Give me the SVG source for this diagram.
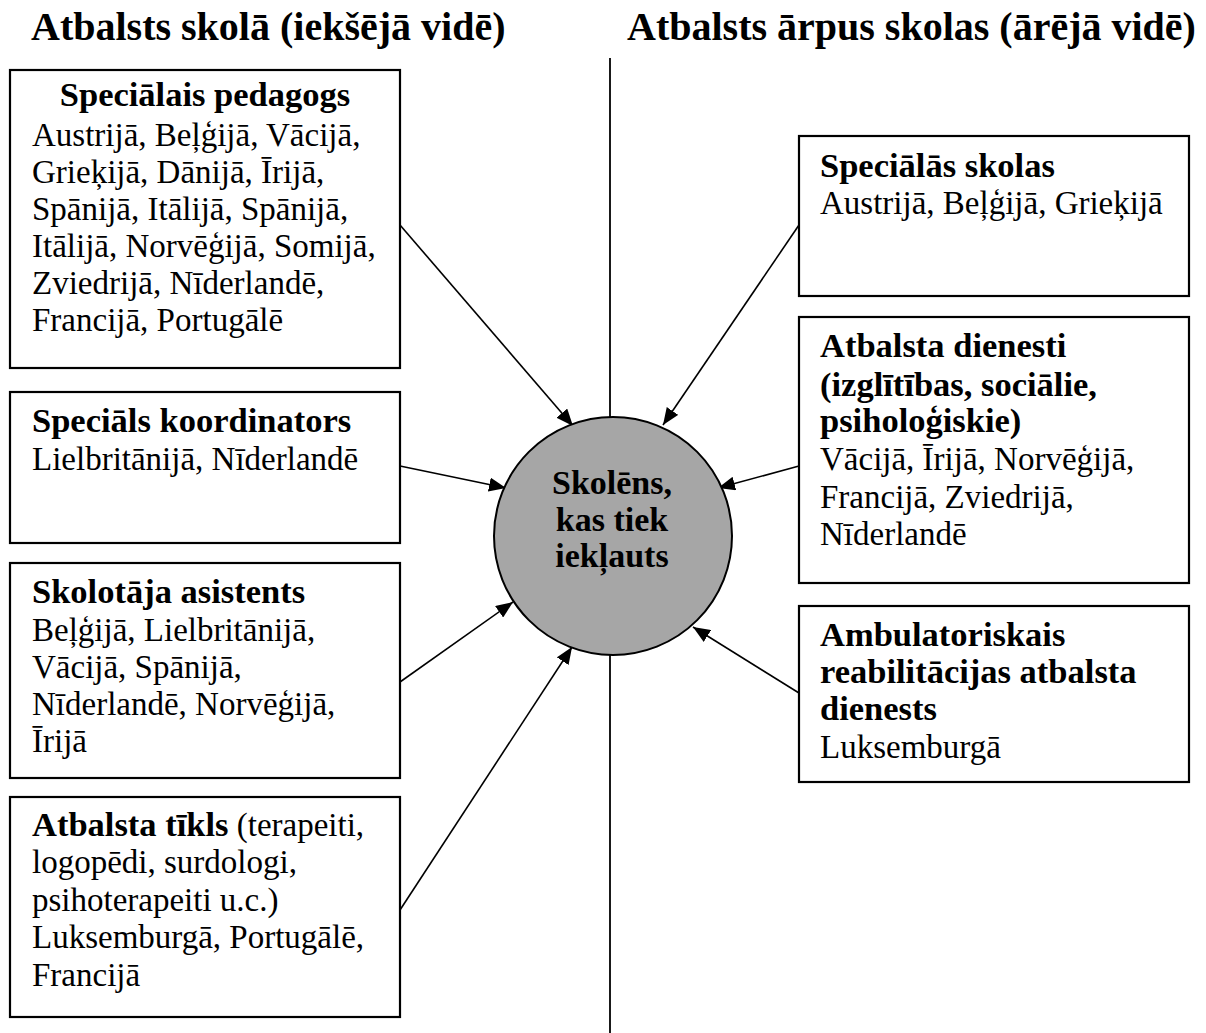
<svg xmlns="http://www.w3.org/2000/svg" width="1206" height="1033" viewBox="0 0 1206 1033">
  <style>
    text { font-family: "Liberation Serif", "Times New Roman", serif; fill: #000; }
    .title { font-size: 40px; font-weight: bold; }
    .head { font-size: 34.5px; font-weight: bold; }
    .body { font-size: 33px; }
    .hub { font-size: 34px; font-weight: bold; text-anchor: middle; }
    .box { fill: #fff; stroke: #000; stroke-width: 2.2; }
    .link { stroke: #000; stroke-width: 1.6; fill: none; marker-end: url(#arrow); }
  </style>
  <defs>
    <marker id="arrow" markerUnits="userSpaceOnUse" markerWidth="18" markerHeight="14" refX="17" refY="7" orient="auto">
      <path d="M0,0 L17,7 L0,14 z" fill="#000"/>
    </marker>
  </defs>
  <rect width="1206" height="1033" fill="#fff"/>

  <!-- column headings -->
  <text class="title" x="31" y="40">Atbalsts skolā (iekšējā vidē)</text>
  <text class="title" x="627" y="40">Atbalsts ārpus skolas (ārējā vidē)</text>

  <!-- divider between inside and outside support -->
  <line x1="610" y1="58" x2="610" y2="1033" stroke="#000" stroke-width="1.8"/>

  <!-- connectors -->
  <g id="connectors">
    <line class="link" x1="400" y1="225" x2="573" y2="426"/>
    <line class="link" x1="400" y1="466" x2="506" y2="488"/>
    <line class="link" x1="400" y1="682" x2="513" y2="602"/>
    <line class="link" x1="400" y1="910" x2="572" y2="647"/>
    <line class="link" x1="799" y1="225" x2="663" y2="425"/>
    <line class="link" x1="799" y1="466" x2="718" y2="488"/>
    <line class="link" x1="799" y1="693" x2="693" y2="627"/>
  </g>

  <!-- central node -->
  <g id="student">
    <circle cx="613" cy="536" r="119" fill="#a6a6a6" stroke="#000" stroke-width="2"/>
    <text class="hub" x="612" y="494">Skolēns,</text>
    <text class="hub" x="612" y="531">kas tiek</text>
    <text class="hub" x="612" y="567">iekļauts</text>
  </g>

  <g id="special-teacher">
    <rect class="box" x="10" y="70" width="390" height="298"/>
    <text class="head" x="205" y="106" text-anchor="middle">Speciālais pedagogs</text>
    <text class="body" x="32" y="146">Austrijā, Beļģijā, Vācijā,</text>
    <text class="body" x="32" y="183">Grieķijā, Dānijā, Īrijā,</text>
    <text class="body" x="32" y="220">Spānijā, Itālijā, Spānijā,</text>
    <text class="body" x="32" y="257">Itālijā, Norvēģijā, Somijā,</text>
    <text class="body" x="32" y="294">Zviedrijā, Nīderlandē,</text>
    <text class="body" x="32" y="331">Francijā, Portugālē</text>
  </g>

  <g id="special-coordinator">
    <rect class="box" x="10" y="392" width="390" height="151"/>
    <text class="head" x="32" y="432">Speciāls koordinators</text>
    <text class="body" x="32" y="470">Lielbritānijā, Nīderlandē</text>
  </g>

  <g id="teaching-assistant">
    <rect class="box" x="10" y="563" width="390" height="215"/>
    <text class="head" x="32" y="603">Skolotāja asistents</text>
    <text class="body" x="32" y="641">Beļģijā, Lielbritānijā,</text>
    <text class="body" x="32" y="678">Vācijā, Spānijā,</text>
    <text class="body" x="32" y="715">Nīderlandē, Norvēģijā,</text>
    <text class="body" x="32" y="752">Īrijā</text>
  </g>

  <g id="support-network">
    <rect class="box" x="10" y="797" width="390" height="220"/>
    <text class="body" x="32" y="836"><tspan font-weight="bold" font-size="34.5">Atbalsta tīkls</tspan> (terapeiti,</text>
    <text class="body" x="32" y="873">logopēdi, surdologi,</text>
    <text class="body" x="32" y="911">psihoterapeiti u.c.)</text>
    <text class="body" x="32" y="948">Luksemburgā, Portugālē,</text>
    <text class="body" x="32" y="986">Francijā</text>
  </g>

  <g id="special-schools">
    <rect class="box" x="799" y="136" width="390" height="160"/>
    <text class="head" x="820" y="177">Speciālās skolas</text>
    <text class="body" x="820" y="214">Austrijā, Beļģijā, Grieķijā</text>
  </g>

  <g id="support-services">
    <rect class="box" x="799" y="317" width="390" height="266"/>
    <text class="head" x="820" y="357">Atbalsta dienesti</text>
    <text class="head" x="820" y="396">(izglītības, sociālie,</text>
    <text class="head" x="820" y="432">psiholoģiskie)</text>
    <text class="body" x="820" y="470">Vācijā, Īrijā, Norvēģijā,</text>
    <text class="body" x="820" y="508">Francijā, Zviedrijā,</text>
    <text class="body" x="820" y="545">Nīderlandē</text>
  </g>

  <g id="outpatient-rehab">
    <rect class="box" x="799" y="606" width="390" height="176"/>
    <text class="head" x="820" y="646">Ambulatoriskais</text>
    <text class="head" x="820" y="683">reabilitācijas atbalsta</text>
    <text class="head" x="820" y="720">dienests</text>
    <text class="body" x="820" y="758">Luksemburgā</text>
  </g>
</svg>
